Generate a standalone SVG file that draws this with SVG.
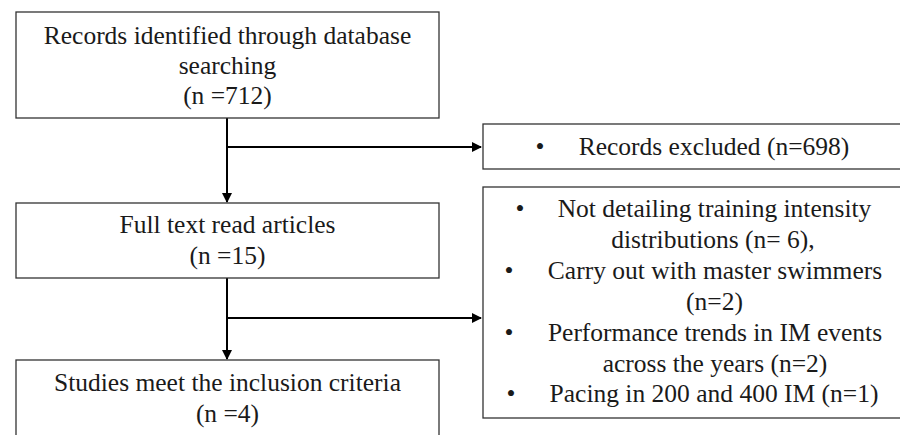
<svg xmlns="http://www.w3.org/2000/svg" width="900" height="435" viewBox="0 0 900 435">
<defs>
<style>
.box{fill:#fff;stroke:#333;stroke-width:1.3}
.t{font-family:"Liberation Serif","Times New Roman",serif;font-size:25.5px;fill:#1a1a1a}
.c{text-anchor:middle}
.ln{stroke:#000;stroke-width:2;fill:none}
</style>
<marker id="ah" viewBox="0 0 10 10" refX="9" refY="5" markerWidth="5" markerHeight="5" orient="auto" markerUnits="strokeWidth">
<path d="M0,0 L10,5 L0,10 z" fill="#000"/>
</marker>
</defs>
<rect width="900" height="435" fill="#fff"/>
<g id="connectors">
<line class="ln" x1="227" y1="118" x2="227" y2="202" marker-end="url(#ah)"/>
<line class="ln" x1="227" y1="147" x2="481" y2="147" marker-end="url(#ah)"/>
<line class="ln" x1="227" y1="278" x2="227" y2="359" marker-end="url(#ah)"/>
<line class="ln" x1="227" y1="318" x2="481" y2="318" marker-end="url(#ah)"/>
</g>
<g id="n1">
<rect class="box" x="16" y="12" width="423" height="106"/>
<text class="t c" x="227.5" y="44">Records identified through database</text>
<text class="t c" x="227.5" y="74">searching</text>
<text class="t c" x="227.5" y="104">(n =712)</text>
</g>
<g id="n2">
<rect class="box" x="16" y="203" width="423" height="75"/>
<text class="t c" x="227.5" y="233">Full text read articles</text>
<text class="t c" x="227.5" y="264">(n =15)</text>
</g>
<g id="n3">
<rect class="box" x="16" y="360" width="423" height="90"/>
<text class="t c" x="227.5" y="391">Studies meet the inclusion criteria</text>
<text class="t c" x="227.5" y="422">(n =4)</text>
</g>
<g id="e1">
<rect class="box" x="483" y="124" width="440" height="45"/>
<text class="t c" x="540" y="155">•</text>
<text class="t c" x="714" y="155">Records excluded (n=698)</text>
</g>
<g id="e2">
<rect class="box" x="483" y="187" width="440" height="231"/>
<text class="t c" x="520" y="217">•</text>
<text class="t c" x="714.5" y="217">Not detailing training intensity</text>
<text class="t c" x="713" y="248">distributions (n= 6),</text>
<text class="t c" x="509" y="279">•</text>
<text class="t c" x="715" y="279">Carry out with master swimmers</text>
<text class="t c" x="714.5" y="310">(n=2)</text>
<text class="t c" x="509" y="341">•</text>
<text class="t c" x="715" y="341">Performance trends in IM events</text>
<text class="t c" x="715" y="372">across the years (n=2)</text>
<text class="t c" x="511" y="402">•</text>
<text class="t c" x="714" y="402">Pacing in 200 and 400 IM (n=1)</text>
</g>
</svg>
